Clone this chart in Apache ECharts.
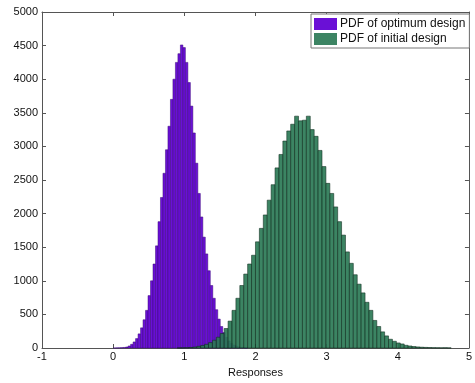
<!DOCTYPE html>
<html lang="en">
<head>
<meta charset="UTF-8">
<title>PDF histograms</title>
<script src="https://cdn.jsdelivr.net/npm/echarts@6/dist/echarts.min.js"></script>
<style>
    html, body { margin: 0; padding: 0; background: #fff; }
    #chart { width: 475px; height: 383px; }
</style>
</head>
<body>
<div id="chart"></div>
<script>
    // histogram of the optimum design (bins of equal width from optStart)
    const optStart = 0.0;
    const optWidth = 0.035;
    const optCounts = [0, 2, 3, 5, 8, 15, 30, 55, 90, 140, 210, 300, 420, 560, 780, 1000,
        1250, 1520, 1880, 2240, 2600, 2950, 3300, 3700, 4000, 4250, 4380, 4510, 4470, 4250,
        3950, 3600, 3200, 2750, 2300, 1950, 1650, 1400, 1150, 930, 740, 570, 430, 320, 230,
        160, 105, 70, 45, 28, 16, 9, 5, 2];

    // histogram of the initial design
    const initStart = 0.9;
    const initWidth = 0.055;
    const initCounts = [1, 2, 4, 8, 14, 25, 38, 55, 80, 115, 160, 215, 290, 400, 560, 740,
        930, 1100, 1250, 1380, 1580, 1780, 1980, 2200, 2430, 2680, 2880, 3080, 3230, 3330,
        3450, 3380, 3390, 3450, 3250, 3150, 2940, 2700, 2450, 2300, 2100, 1880, 1680, 1430,
        1260, 1090, 950, 820, 680, 560, 410, 320, 240, 180, 130, 100, 75, 60, 40, 30, 22, 16,
        12, 9, 7, 5, 4, 3, 4, 2];

    const seriesNames = ['PDF of optimum design', 'PDF of initial design'];

    function toBins(start, width, counts) {
        return counts.map((c, i) => [start + i * width, start + (i + 1) * width, c]);
    }

    function renderBar(params, api) {
        const p0 = api.coord([api.value(0), api.value(2)]);
        const p1 = api.coord([api.value(1), 0]);
        return {
            type: 'rect',
            shape: { x: p0[0], y: p0[1], width: p1[0] - p0[0], height: p1[1] - p0[1] },
            style: api.style()
        };
    }

    const font = 'Liberation Sans, Arial, sans-serif';
    const axisLine = { show: true, onZero: false, lineStyle: { color: '#555', width: 1 } };
    const tick = { show: true, inside: true, length: 4, lineStyle: { color: '#555' } };
    const plain = v => String(v);

    const myChart = echarts.init(document.getElementById('chart'));
    myChart.setOption({
        animation: false,
        textStyle: { fontFamily: font },
        grid: { left: 42, right: 3, top: 12, bottom: 31 },
        legend: {
            orient: 'vertical',
            left: 311, top: 14,
            padding: [4, 4, 3, 3],
            itemGap: 3,
            itemWidth: 23, itemHeight: 12,
            itemStyle: { borderWidth: 0 },
            backgroundColor: '#fff',
            borderColor: '#777', borderWidth: 1,
            textStyle: { fontSize: 12, color: '#111', padding: [0, 0, 0, -2] },
            data: seriesNames.map(n => ({ name: n, icon: 'rect' }))
        },
        xAxis: [{
            type: 'value', min: -1, max: 5, interval: 1,
            name: 'Responses', nameLocation: 'middle', nameGap: 19,
            nameTextStyle: { fontSize: 11, color: '#111' },
            axisLine, axisTick: tick, splitLine: { show: false },
            axisLabel: { fontSize: 11, color: '#111', margin: 3, formatter: plain }
        }, {
            type: 'value', min: -1, max: 5, interval: 1, position: 'top',
            axisLine, axisTick: tick, splitLine: { show: false },
            axisLabel: { show: false }
        }],
        yAxis: [{
            type: 'value', min: 0, max: 5000, interval: 500,
            axisLine, axisTick: tick, splitLine: { show: false },
            axisLabel: { fontSize: 11, color: '#111', margin: 4, formatter: plain }
        }, {
            type: 'value', min: 0, max: 5000, interval: 500, position: 'right',
            axisLine, axisTick: tick, splitLine: { show: false },
            axisLabel: { show: false }
        }],
        series: [{
            name: seriesNames[0],
            type: 'custom',
            renderItem: renderBar,
            encode: { x: [0, 1], y: 2 },
            itemStyle: { color: '#6a10d6', borderColor: '#3a0878', borderWidth: 0.5 },
            data: toBins(optStart, optWidth, optCounts)
        }, {
            name: seriesNames[1],
            type: 'custom',
            renderItem: renderBar,
            encode: { x: [0, 1], y: 2 },
            itemStyle: { color: '#2b7a56', borderColor: '#0d2a1c', borderWidth: 0.6, opacity: 0.92 },
            data: toBins(initStart, initWidth, initCounts)
        }]
    });
</script>
</body>
</html>
